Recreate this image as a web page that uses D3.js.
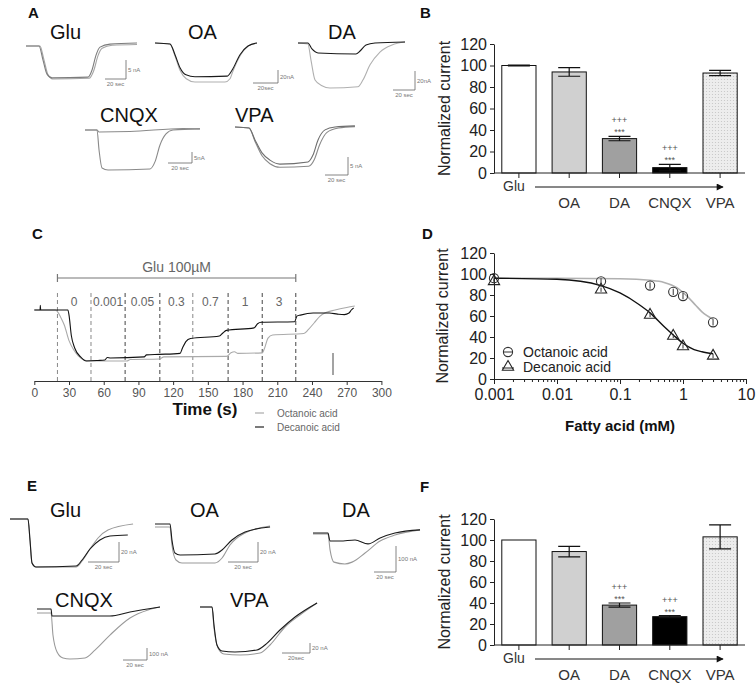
<!DOCTYPE html>
<html>
<head>
<meta charset="utf-8">
<script src="https://cdn.jsdelivr.net/npm/d3@7"></script>
<style>
  body { margin: 0; background: #fff; }
  text { font-family: "Liberation Sans", Arial, sans-serif; }
</style>
</head>
<body>
<div id="chart"></div>
<script>
// ---------- data ----------
// bar panels B and F (normalized current, %)
const barCats = ["Glu", "OA", "DA", "CNQX", "VPA"];
const bMeans = [100, 94, 32, 5, 93];
const bErr = [0.4, 4, 2, 3, 2.5];
const fMeans = [100, 89, 38, 27, 103];
const fErr = [0, 5, 2, 1, 11.5];
const sigCats = ["DA", "CNQX"];

// panel D: concentration-response
const faConc = [0.001, 0.05, 0.3, 0.7, 1, 3];
const octMean = [96, 93, 89, 83, 79, 54];
const octErr = [3, 3, 3, 3, 3, 3];
const decMean = [93, 85, 61, 41, 31, 22];
const decErr = [2, 2, 2, 2, 2, 2];
const octFitX = [0.001, 0.01, 0.1, 0.3, 0.5, 0.8, 1.2, 1.6, 2, 3];
const octFitY = [96, 96, 95.5, 94, 92, 87, 78, 70, 64, 57];
const decFitX = [0.001, 0.01, 0.05, 0.1, 0.2, 0.3, 0.5, 0.7, 1, 1.5, 2, 3];
const decFitY = [96, 95, 89, 82, 71, 63, 50, 42, 34, 28, 26, 24];
const dTicks = [0.001, 0.01, 0.1, 1, 10];

// panel C: time course [s, relative current]
const cTicks = [0, 30, 60, 90, 120, 150, 180, 210, 240, 270, 300];
const cSwitch = [20, 49, 78.5, 108.5, 137, 167.5, 197, 226];
const cConc = ["0", "0.001", "0.05", "0.3", "0.7", "1", "3"];
const cOctanoic = [[0,0],[18,0],[20,-3],[23,-15],[26,-30],[30,-60],[34,-78],[38,-90],[43,-98],[48,-100],[80,-100],[83,-97],[108,-96],[112,-92],[166,-91],[170,-84],[173,-82],[176,-85],[197,-84],[199,-75],[202,-55],[206,-49],[233,-46],[237,-38],[242,-25],[247,-12],[252,-5],[260,0],[270,5],[277,8]];
const cDecanoic = [[0,0],[5,0],[5.2,9],[5.5,0],[29,0],[30,-10],[32,-50],[35,-75],[40,-92],[45,-100],[55,-99],[61,-98],[63,-93],[66,-94],[95,-92],[97,-88],[108,-87],[126,-85],[128,-75],[131,-62],[135,-56],[160,-51],[163,-45],[166,-40],[190,-35],[193,-27],[196,-24],[225,-23],[227,-12],[230,-10],[241,-6],[255,-6],[262,-8],[268,-9],[272,-6],[274,0],[276,4]];

// panel A traces [s, nA]
const aGlu1 = [[0,0],[12.4,0],[16.2,-3.7],[20,-7.4],[24.8,-8.4],[59,-8.2],[62.9,-6.3],[66.7,-2.4],[70.5,-0.3],[80,0.5],[105.7,0.8]];
const aGlu2 = [[0,0],[13.3,0],[17,-3.5],[21,-7.6],[26,-8.7],[60,-8.5],[64.5,-6.5],[68.5,-2.6],[72.5,-0.6],[82,0.2],[105.7,0.4]];
const aOA1 = [[0,0],[12,-1.5],[16,-18],[20,-38],[24.8,-49],[32,-52],[57.6,-51],[61.6,-42],[68,-18],[74.4,-4.6],[81.6,0]];
const aOA2 = [[0,0],[12,-1.5],[16,-20],[20,-42],[25,-55],[32,-60],[56,-60],[60,-55],[62,-45],[68,-20],[74.4,-5],[81.6,0]];
const aDA1 = [[0,0],[9,0],[12.7,-6.3],[18.2,-10.5],[52.7,-11.6],[56.4,-8.4],[61.8,-2.1],[70,0],[97.3,1]];
const aDA2 = [[0,0],[9,-1],[11.8,-18],[15.5,-39],[21.8,-45],[29,-47.4],[54.5,-46],[59,-39],[65.5,-23],[74.5,-9.5],[85.5,-2],[97.3,1]];
const aCNQX1 = [[0,0],[10,0],[11.7,-0.9],[37.5,-0.7],[81.7,0.7],[95.8,0.5]];
const aCNQX2 = [[0,0],[10,0],[11.7,-9.1],[14.2,-17.3],[19.2,-18.2],[54.2,-17.7],[58.3,-14.5],[62.5,-6.8],[67.5,-1.8],[73.3,0],[95.8,0.5]];
const aVPA1 = [[0,0],[12.2,-0.3],[17.4,-3.6],[23.5,-7.2],[30.4,-9.2],[39,-10.3],[63.5,-9.7],[67.8,-7.8],[72.2,-3.6],[78.3,-0.8],[87,0],[104.3,0.3]];
const aVPA2 = [[0,0],[12.2,-0.3],[17.4,-4],[23.5,-8],[30.4,-10.2],[39,-11.2],[64,-10.9],[69,-9],[73.5,-5],[80,-1.5],[90,-0.3],[104.3,0.1]];

// panel E traces [s, nA]
const eGlu1 = [[0,0],[11.6,0],[12.9,-21],[14.2,-44],[16.8,-48],[42.6,-47],[46.5,-41],[51.6,-30],[58,-21],[64.5,-17],[76,-16]];
const eGlu2 = [[0,0],[11.6,0],[12.9,-21],[14.2,-44],[16.8,-48],[42.6,-48],[46.5,-42],[51.6,-30],[56.8,-19],[63.2,-11],[79.4,-5]];
const eOA1 = [[0,0],[10,0],[11.3,-16],[13.3,-29],[16.7,-31],[40,-30],[44.7,-26],[51.3,-16],[60,-8],[76.7,-3]];
const eOA2 = [[0,-3],[10,-3],[11.3,-21],[14,-36],[18,-39],[40,-39],[44.7,-34],[50,-21],[60,-9],[76.7,-2]];
const eDA1 = [[0,0],[13.6,0],[15.5,-31],[24.5,-31],[38.2,-27],[50,-42],[61,-19],[74.5,0],[97.3,12]];
const eDA2 = [[0,-4],[13.6,-4],[15.5,-65],[19.1,-112],[29,-119],[35.5,-112],[47.3,-77],[61,-31],[74.5,-8],[97.3,12]];
const eCNQX1 = [[0,0],[11.7,0],[12.5,-58],[19.2,-58],[60.8,-58],[77.5,-25],[102.5,17]];
const eCNQX2 = [[0,-33],[11.7,-33],[13.3,-217],[16.7,-358],[21.7,-408],[27.5,-417],[40,-408],[48.3,-342],[60.8,-217],[77.5,-75],[92.5,-8],[102.5,17]];
const eVPA1 = [[0,0],[8.6,0],[10,-36],[12.1,-76],[15.7,-88],[25,-90],[40.7,-86],[46.4,-76],[57.1,-46],[67.9,-20],[83.6,8]];
const eVPA2 = [[0,0],[8.6,0],[10,-42],[12.9,-82],[17.1,-94],[28.6,-96],[42.9,-92],[50,-76],[60.7,-40],[71.4,-16],[83.6,8]];

// ---------- layout ----------
const width = 756, height = 693;
const svg = d3.select("#chart").append("svg")
  .attr("width", width).attr("height", height);

const defs = svg.append("defs");
const pat = defs.append("pattern").attr("id", "dots")
  .attr("width", 3).attr("height", 3).attr("patternUnits", "userSpaceOnUse");
pat.append("rect").attr("width", 3).attr("height", 3).attr("fill", "#ededed");
pat.append("circle").attr("cx", 1.5).attr("cy", 1.5).attr("r", 0.6).attr("fill", "#c4c4c4");
defs.append("marker").attr("id", "arrow").attr("viewBox", "0 0 10 10")
  .attr("refX", 9).attr("refY", 5).attr("markerWidth", 10).attr("markerHeight", 7)
  .attr("markerUnits", "userSpaceOnUse").attr("orient", "auto")
  .append("path").attr("d", "M0,0L10,5L0,10z").attr("fill", "#111");

function letter(t, x, y) {
  svg.append("text").attr("x", x).attr("y", y).text(t)
    .attr("font-size", 15).attr("font-weight", "bold").attr("fill", "#111");
}

// ---------- trace panels (A, E) ----------
function drawTraces(p) {
  const g = svg.append("g");
  const x = d3.scaleLinear().domain([0, 1]).range([p.x0, p.x0 + p.sx]);
  const y = d3.scaleLinear().domain([0, 1]).range([p.y0, p.y0 - p.sy]);
  const line = d3.line().x(d => x(d[0])).y(d => y(d[1])).curve(d3.curveMonotoneX);

  g.append("text").attr("x", p.tx).attr("y", p.ty).text(p.title)
    .attr("font-size", 20).attr("fill", "#111");

  p.traces.forEach(([data, color]) => {
    g.append("path").attr("d", line(data)).attr("fill", "none")
      .attr("stroke", color).attr("stroke-width", 1.1);
  });

  // scale bar: 20 s horizontal, p.nA vertical
  const hw = 20 * p.sx, vh = p.nA * p.sy;
  g.append("path")
    .attr("d", `M${p.bx - hw},${p.by}H${p.bx}V${p.by - vh}`)
    .attr("fill", "none").attr("stroke", "#666").attr("stroke-width", 0.8);
  g.append("text").attr("x", p.bx + 2).attr("y", p.by - vh / 2 + 2)
    .text(p.nALabel).attr("font-size", 6).attr("fill", "#777");
  g.append("text").attr("x", p.bx - hw / 2).attr("y", p.by + 7)
    .attr("text-anchor", "middle")
    .text(p.secLabel).attr("font-size", 6).attr("fill", "#777");
}

const dark = "#1a1a1a", grey = "#9a9a9a", mid = "#7c7c7c";
const panelsA = [
  { title: "Glu", tx: 50, ty: 39, x0: 26, y0: 46, sx: 1.05, sy: 3.8, traces: [[aGlu2, "#a5a5a5"], [aGlu1, mid]], bx: 126, by: 79, nA: 5, nALabel: "5 nA", secLabel: "20 sec" },
  { title: "OA", tx: 188, ty: 39, x0: 155, y0: 43, sx: 1.25, sy: 0.65, traces: [[aOA2, "#b0b0b0"], [aOA1, dark]], bx: 278, by: 83, nA: 20, nALabel: "20nA", secLabel: "20sec" },
  { title: "DA", tx: 328, ty: 39, x0: 298, y0: 43, sx: 1.1, sy: 0.95, traces: [[aDA2, "#b0b0b0"], [aDA1, dark]], bx: 415, by: 90, nA: 20, nALabel: "20nA", secLabel: "20 sec" },
  { title: "CNQX", tx: 100, ty: 122, x0: 85, y0: 130, sx: 1.2, sy: 2.2, traces: [[aCNQX2, "#8a8a8a"], [aCNQX1, "#8a8a8a"]], bx: 192, by: 163, nA: 5, nALabel: "5nA", secLabel: "20 sec" },
  { title: "VPA", tx: 235, ty: 122, x0: 235, y0: 127, sx: 1.15, sy: 3.6, traces: [[aVPA2, "#8a8a8a"], [aVPA1, "#6e6e6e"]], bx: 348, by: 175, nA: 5, nALabel: "5 nA", secLabel: "20 sec" }
];
const panelsE = [
  { title: "Glu", tx: 50, ty: 517, x0: 10, y0: 519, sx: 1.55, sy: 1.0, traces: [[eGlu2, grey], [eGlu1, dark]], bx: 119, by: 562, nA: 20, nALabel: "20 nA", secLabel: "20 sec" },
  { title: "OA", tx: 190, ty: 517, x0: 155, y0: 524, sx: 1.5, sy: 1.0, traces: [[eOA2, grey], [eOA1, dark]], bx: 258, by: 562, nA: 20, nALabel: "20 nA", secLabel: "20 sec" },
  { title: "DA", tx: 342, ty: 517, x0: 313, y0: 533, sx: 1.1, sy: 0.26, traces: [[eDA2, grey], [eDA1, dark]], bx: 396, by: 572, nA: 100, nALabel: "100 nA", secLabel: "20 sec" },
  { title: "CNQX", tx: 55, ty: 607, x0: 37, y0: 609, sx: 1.2, sy: 0.12, traces: [[eCNQX2, grey], [eCNQX1, dark]], bx: 147, by: 660, nA: 100, nALabel: "100 nA", secLabel: "20 sec" },
  { title: "VPA", tx: 230, ty: 607, x0: 200, y0: 607, sx: 1.4, sy: 0.5, traces: [[eVPA2, grey], [eVPA1, dark]], bx: 310, by: 653, nA: 20, nALabel: "20 nA", secLabel: "20sec" }
];

letter("A", 28, 18);
panelsA.forEach(drawTraces);
letter("E", 27, 491);
panelsE.forEach(drawTraces);

// ---------- bar panels (B, F) ----------
function drawBars(means, errs, top, bottom) {
  const g = svg.append("g");
  const x = d3.scaleBand().domain(barCats).range([494, 745])
    .paddingInner(0.32).paddingOuter(0.155);
  const y = d3.scaleLinear().domain([0, 120]).range([bottom, top]);
  const fills = ["#ffffff", "#d0d0d0", "#a0a0a0", "#000000", "url(#dots)"];

  g.append("g").attr("transform", "translate(494,0)")
    .call(d3.axisLeft(y).tickValues(d3.range(0, 121, 20)).tickSize(4).tickSizeOuter(0))
    .call(a => a.selectAll("text").attr("font-size", 16).attr("fill", "#222")
      .attr("font-family", "Liberation Sans, Arial, sans-serif"))
    .call(a => a.selectAll("line,path").attr("stroke", "#222"));

  g.append("text")
    .attr("transform", `translate(450,${(top + bottom) / 2}) rotate(-90)`)
    .attr("text-anchor", "middle").attr("font-size", 16).attr("fill", "#222")
    .text("Normalized current");

  const data = barCats.map((c, i) => ({ c, m: means[i], e: errs[i], f: fills[i] }));
  g.selectAll("rect.bar").data(data).join("rect").attr("class", "bar")
    .attr("x", d => x(d.c)).attr("width", x.bandwidth())
    .attr("y", d => y(d.m)).attr("height", d => y(0) - y(d.m))
    .attr("fill", d => d.f).attr("stroke", "#111").attr("stroke-width", 1);

  const cap = 11;
  g.selectAll("path.err").data(data.filter(d => d.e > 0)).join("path")
    .attr("class", "err")
    .attr("d", d => {
      const cx = x(d.c) + x.bandwidth() / 2;
      return `M${cx - cap},${y(d.m + d.e)}H${cx + cap}M${cx},${y(d.m + d.e)}V${y(d.m - d.e)}M${cx - cap},${y(d.m - d.e)}H${cx + cap}`;
    })
    .attr("stroke", "#111").attr("stroke-width", 1.2).attr("fill", "none");

  // x axis line with ticks at bar centres
  g.append("g").attr("transform", `translate(0,${bottom})`)
    .call(d3.axisBottom(x).tickSize(5).tickSizeOuter(0).tickFormat(""))
    .call(a => a.select("path").attr("d", `M494,0H745`))
    .call(a => a.selectAll("line,path").attr("stroke", "#222"));

  // significance marks
  sigCats.forEach(c => {
    const i = barCats.indexOf(c);
    const cx = x(c) + x.bandwidth() / 2, ty = y(means[i] + errs[i]);
    g.append("text").attr("x", cx).attr("y", ty - 1).attr("text-anchor", "middle")
      .attr("font-size", 9).attr("fill", "#555").text("***");
    g.append("text").attr("x", cx).attr("y", ty - 13).attr("text-anchor", "middle")
      .attr("font-size", 9).attr("fill", "#555").text("+++");
  });

  // treatment row
  g.append("text").attr("x", 503).attr("y", bottom + 18).attr("font-size", 14)
    .attr("fill", "#333").text(barCats[0]);
  g.append("line").attr("x1", 535).attr("x2", 723)
    .attr("y1", bottom + 14).attr("y2", bottom + 14)
    .attr("stroke", "#111").attr("stroke-width", 1).attr("marker-end", "url(#arrow)");
  g.selectAll("text.cat").data(barCats.slice(1)).join("text").attr("class", "cat")
    .attr("x", d => x(d) + x.bandwidth() / 2).attr("y", bottom + 35)
    .attr("text-anchor", "middle").attr("font-size", 15).attr("fill", "#333").text(d => d);
}

letter("B", 420, 18);
drawBars(bMeans, bErr, 44, 173);
letter("F", 420, 492);
drawBars(fMeans, fErr, 519, 645);

// ---------- panel C: time course ----------
{
  const g = svg.append("g");
  const x = d3.scaleLinear().domain([0, 300]).range([34.3, 381.4]);
  const y = d3.scaleLinear().domain([-100, 0]).range([361, 310]);
  letter("C", 32, 239);

  g.append("g").attr("transform", "translate(0,381)")
    .call(d3.axisBottom(x).tickValues(cTicks).tickSize(4).tickSizeOuter(0))
    .call(a => a.selectAll("text").attr("font-size", 12).attr("fill", "#555")
      .attr("font-family", "Liberation Sans, Arial, sans-serif"))
    .call(a => a.selectAll("line,path").attr("stroke", "#333"));

  g.append("text").attr("x", 205).attr("y", 415).attr("text-anchor", "middle")
    .attr("font-size", 17).attr("font-weight", "bold").attr("fill", "#111").text("Time (s)");

  // application bar
  const bx0 = x(cSwitch[0]), bx1 = x(cSwitch[cSwitch.length - 1]);
  g.append("path").attr("d", `M${bx0},274V282M${bx0},278H${bx1}M${bx1},274V282`)
    .attr("stroke", "#777").attr("stroke-width", 1.2).attr("fill", "none");
  g.append("text").attr("x", (bx0 + bx1) / 2).attr("y", 272).attr("text-anchor", "middle")
    .attr("font-size", 14).attr("fill", "#666").text("Glu 100\u00b5M");

  g.selectAll("line.sw").data(cSwitch).join("line").attr("class", "sw")
    .attr("x1", d => x(d)).attr("x2", d => x(d)).attr("y1", 293).attr("y2", 381)
    .attr("stroke", (d, i) => i < 2 || i === 4 ? "#888" : "#444")
    .attr("stroke-width", 1).attr("stroke-dasharray", "4,3");
  g.selectAll("text.conc").data(cConc).join("text").attr("class", "conc")
    .attr("x", (d, i) => x((cSwitch[i] + cSwitch[i + 1]) / 2)).attr("y", 306)
    .attr("text-anchor", "middle").attr("font-size", 12).attr("fill", "#666").text(d => d);

  const line = d3.line().x(d => x(d[0])).y(d => y(d[1])).curve(d3.curveMonotoneX);
  g.append("path").attr("d", line(cOctanoic)).attr("fill", "none")
    .attr("stroke", "#aaa").attr("stroke-width", 1.1);
  g.append("path").attr("d", line(cDecanoic)).attr("fill", "none")
    .attr("stroke", "#111").attr("stroke-width", 1.1);

  // vertical scale bar
  g.append("line").attr("x1", 333).attr("x2", 333).attr("y1", 353).attr("y2", 375)
    .attr("stroke", "#666").attr("stroke-width", 1.2);

  // legend
  [["Octanoic acid", "#aaa"], ["Decanoic acid", "#222"]].forEach(([t, c], i) => {
    g.append("line").attr("x1", 255).attr("x2", 264).attr("y1", 413 + i * 14).attr("y2", 413 + i * 14)
      .attr("stroke", c).attr("stroke-width", 1.2);
    g.append("text").attr("x", 277).attr("y", 416.5 + i * 14).attr("font-size", 10)
      .attr("fill", "#666").text(t);
  });
}

// ---------- panel D: concentration-response ----------
{
  const g = svg.append("g");
  const x = d3.scaleLog().domain([0.001, 10]).range([494, 746]);
  const y = d3.scaleLinear().domain([0, 120]).range([379, 253]);
  letter("D", 422, 239);

  g.append("g").attr("transform", "translate(494,0)")
    .call(d3.axisLeft(y).tickValues(d3.range(0, 121, 20)).tickSize(4).tickSizeOuter(0))
    .call(a => a.selectAll("text").attr("font-size", 16).attr("fill", "#222")
      .attr("font-family", "Liberation Sans, Arial, sans-serif"))
    .call(a => a.selectAll("line,path").attr("stroke", "#222"));

  const minor = [];
  [0.001, 0.01, 0.1, 1].forEach(b => d3.range(2, 10).forEach(k => minor.push(b * k)));
  g.append("g").attr("transform", "translate(0,379)")
    .call(d3.axisBottom(x).tickValues(minor).tickSize(3).tickFormat("").tickSizeOuter(0))
    .call(a => a.selectAll("line,path").attr("stroke", "#222"));
  g.append("g").attr("transform", "translate(0,379)")
    .call(d3.axisBottom(x).tickValues(dTicks).tickSize(5).tickPadding(5).tickSizeOuter(0).tickFormat(d => String(d)))
    .call(a => a.selectAll("text").attr("font-size", 16).attr("fill", "#222")
      .attr("font-family", "Liberation Sans, Arial, sans-serif"))
    .call(a => a.selectAll("line,path").attr("stroke", "#222"));

  g.append("text").attr("transform", `translate(448,316) rotate(-90)`)
    .attr("text-anchor", "middle").attr("font-size", 16).attr("fill", "#222")
    .text("Normalized current");
  g.append("text").attr("x", 620).attr("y", 431).attr("text-anchor", "middle")
    .attr("font-size", 15).attr("font-weight", "bold").attr("fill", "#111").text("Fatty acid (mM)");

  const fit = d3.line().x(d => x(d[0])).y(d => y(d[1])).curve(d3.curveMonotoneX);
  g.append("path").attr("d", fit(octFitX.map((v, i) => [v, octFitY[i]])))
    .attr("fill", "none").attr("stroke", "#b0b0b0").attr("stroke-width", 1.6);
  g.append("path").attr("d", fit(decFitX.map((v, i) => [v, decFitY[i]])))
    .attr("fill", "none").attr("stroke", "#111").attr("stroke-width", 1.4);

  const tri = d3.symbol(d3.symbolTriangle, 55);
  const pts = (means, errs, kind) => faConc.forEach((c, i) => {
    const px = x(c), py = y(means[i]);
    g.append("path").attr("d", `M${px},${y(means[i] + errs[i])}V${y(means[i] - errs[i])}`)
      .attr("stroke", "#333").attr("stroke-width", 1);
    if (kind === "circle") {
      g.append("circle").attr("cx", px).attr("cy", py).attr("r", 4.6)
        .attr("fill", "none").attr("stroke", "#333").attr("stroke-width", 1.1);
    } else {
      g.append("path").attr("d", tri).attr("transform", `translate(${px},${py})`)
        .attr("fill", "none").attr("stroke", "#222").attr("stroke-width", 1.1);
    }
  });
  pts(octMean, octErr, "circle");
  pts(decMean, decErr, "triangle");

  // legend
  g.append("circle").attr("cx", 508).attr("cy", 352).attr("r", 4.6)
    .attr("fill", "#fff").attr("stroke", "#333").attr("stroke-width", 1.1);
  g.append("path").attr("d", "M503.5,352H512.5").attr("stroke", "#333");
  g.append("text").attr("x", 523).attr("y", 356.5).attr("font-size", 14).attr("fill", "#222").text("Octanoic acid");
  g.append("path").attr("d", tri).attr("transform", "translate(508,367)")
    .attr("fill", "#fff").attr("stroke", "#222").attr("stroke-width", 1.1);
  g.append("path").attr("d", "M502,368H514").attr("stroke", "#222");
  g.append("text").attr("x", 523).attr("y", 372).attr("font-size", 14).attr("fill", "#222").text("Decanoic acid");
}
</script>
</body>
</html>
